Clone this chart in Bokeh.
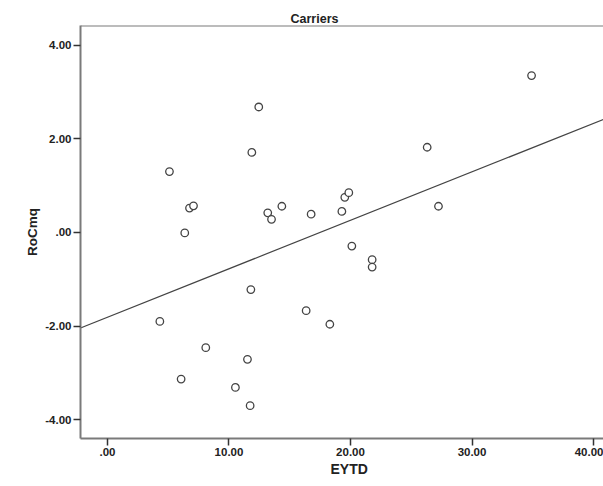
from bokeh.plotting import figure
from bokeh.models import Range1d, FixedTicker, Title, Span, ColumnDataSource
from bokeh.embed import file_html
from bokeh.resources import INLINE
import numpy as np

# ---- data ----
eytd = [12.45, 11.88, 5.10, 6.75, 7.08, 6.36, 13.19, 13.50, 14.35, 16.76,
        11.80, 16.35, 4.31, 8.09, 11.52, 6.06, 10.53, 11.74,
        19.29, 19.53, 19.86, 27.24, 20.11, 21.78, 21.78, 18.30,
        34.90, 26.31]
rocmq = [2.68, 1.71, 1.30, 0.52, 0.57, -0.01, 0.42, 0.28, 0.56, 0.39,
         -1.22, -1.67, -1.90, -2.46, -2.71, -3.13, -3.31, -3.70,
         0.45, 0.75, 0.85, 0.56, -0.29, -0.58, -0.74, -1.96,
         3.35, 1.82]
fit_intercept = -1.81
fit_slope = 0.1035

x_ticks = [0, 10, 20, 30, 40]
x_tick_labels = [".00", "10.00", "20.00", "30.00", "40.00"]
y_ticks = [-4, -2, 0, 2, 4]
y_tick_labels = ["-4.00", "-2.00", ".00", "2.00", "4.00"]

title_text = "Carriers"
x_label = "EYTD"
y_label = "RoCmq"

# ---- figure ----
FONT = "Liberation Sans"
AXIS_COLOR = "#7a7a7a"
TEXT_COLOR = "#222222"

x0, x1 = -2.22, 40.82
y0, y1 = -4.40, 4.42

p = figure(width=603, height=486, output_backend="svg", toolbar_location=None,
           x_range=Range1d(x0, x1), y_range=Range1d(y0, y1),
           min_border_left=80, min_border_right=0, min_border_top=25,
           min_border_bottom=48, background_fill_color="white",
           border_fill_color="white")
p.outline_line_color = None
p.grid.visible = False

for ax in (p.xaxis[0], p.yaxis[0]):
    ax.axis_line_color = AXIS_COLOR
    ax.axis_line_width = 2
    ax.major_tick_line_color = "#333333"
    ax.major_tick_line_width = 1.5
    ax.major_tick_out = 7
    ax.major_tick_in = 0
    ax.minor_tick_line_color = None
    ax.major_label_text_font = FONT
    ax.major_label_text_font_size = "11.5px"
    ax.major_label_text_font_style = "bold"
    ax.major_label_text_color = TEXT_COLOR
    ax.major_label_standoff = 2

p.xaxis[0].ticker = FixedTicker(ticks=x_ticks)
p.xaxis[0].major_label_overrides = {t: l for t, l in zip(x_ticks, x_tick_labels)}
p.yaxis[0].ticker = FixedTicker(ticks=y_ticks)
p.yaxis[0].major_label_overrides = {t: l for t, l in zip(y_ticks, y_tick_labels)}

p.yaxis[0].axis_label = y_label
p.yaxis[0].axis_label_text_font = FONT
p.yaxis[0].axis_label_text_font_size = "13.5px"
p.yaxis[0].axis_label_text_font_style = "bold"
p.yaxis[0].axis_label_text_color = TEXT_COLOR
p.yaxis[0].axis_label_standoff = 2

# top frame line
p.add_layout(Span(location=y1, dimension="width", line_color=AXIS_COLOR, line_width=2))

# title and x label
t = Title(text=title_text, align="left", offset=210, standoff=0,
          text_font=FONT, text_font_size="12.5px", text_font_style="bold",
          text_color=TEXT_COLOR)
p.add_layout(t, "above")
xl = Title(text=x_label, align="left", offset=250, standoff=0,
           text_font=FONT, text_font_size="14px", text_font_style="bold",
           text_color=TEXT_COLOR)
p.add_layout(xl, "below")

# fit line
fx = np.array([x0, x1])
fy = fit_intercept + fit_slope * fx
p.line(fx, fy, line_color="#444444", line_width=1.2)

# points
src = ColumnDataSource(dict(x=eytd, y=rocmq))
p.scatter("x", "y", source=src, marker="circle", size=7.5, fill_color="white",
          line_color="#444444", line_width=1.3)

open("out.html", "w").write(file_html(p, INLINE))
